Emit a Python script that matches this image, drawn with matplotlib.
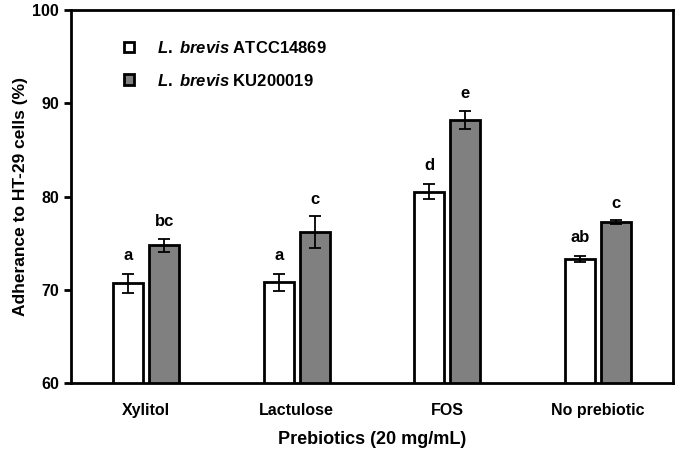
import matplotlib.pyplot as plt
import numpy as np

plt.rcParams['font.family'] = ['Liberation Sans', 'DejaVu Sans']
plt.rcParams['font.weight'] = 'bold'
plt.rcParams['mathtext.fontset'] = 'custom'
plt.rcParams['mathtext.it'] = 'Liberation Sans:italic:bold'
plt.rcParams['mathtext.rm'] = 'Liberation Sans:bold'
plt.rcParams['mathtext.bf'] = 'Liberation Sans:bold'

categories = ['Xylitol', 'Lactulose', 'FOS', 'No prebiotic']
atcc_mean = [70.7, 70.8, 80.5, 73.3]
atcc_err = [1.0, 0.9, 0.8, 0.3]
ku_mean = [74.8, 76.2, 88.2, 77.3]
ku_err = [0.7, 1.7, 1.0, 0.2]
atcc_letters = ['a', 'a', 'd', 'ab']
ku_letters = ['bc', 'c', 'e', 'c']

fig = plt.figure(figsize=(6.76, 4.55), dpi=100)
ax = fig.add_axes([0.105, 0.158, 0.8906, 0.820])

x = np.arange(len(categories))
w = 0.2
off = 0.12
ebar = dict(ecolor='black', capsize=4, elinewidth=1.3, capthick=1.3)
ax.bar(x - off, atcc_mean, w, yerr=atcc_err, color='white', edgecolor='black',
       linewidth=2, error_kw=ebar, label='$\\it{L.}$ $\\it{brevis}$ ATCC14869')
ax.bar(x + off, ku_mean, w, yerr=ku_err, color='#808080', edgecolor='black',
       linewidth=2, error_kw=ebar, label='$\\it{L.}$ $\\it{brevis}$ KU200019')

# significance letters sit a little above the error bars
for i in range(len(categories)):
    ax.text(x[i] - off, atcc_mean[i] + atcc_err[i] + 1.2, atcc_letters[i],
            ha='center', va='bottom', fontsize=12, fontweight='bold')
    ax.text(x[i] + off, ku_mean[i] + ku_err[i] + 1.0, ku_letters[i],
            ha='center', va='bottom', fontsize=12, fontweight='bold')

ax.set_xlim(-0.5, 3.5)
ax.set_ylim(60, 100)
ax.set_yticks([60, 70, 80, 90, 100])
ax.set_xticks(x)
ax.set_xticklabels(categories, fontsize=11.5, fontweight='bold')
ax.tick_params(axis='y', labelsize=11.5, width=2, length=5, direction='out')
ax.tick_params(axis='x', length=0, pad=14)
for s in ax.spines.values():
    s.set_linewidth(2)

ax.set_xlabel('Prebiotics (20 mg/mL)', fontsize=13, fontweight='bold', labelpad=10)
ax.set_ylabel('Adherance to HT-29 cells (%)', fontsize=12.5, fontweight='bold', labelpad=3)

leg = ax.legend(loc='upper left', bbox_to_anchor=(0.063, 0.96), frameon=False,
                fontsize=12, handlelength=0.6, handleheight=0.6, handletextpad=1.4,
                labelspacing=1.0)

fig.savefig('out.png', dpi=100)
